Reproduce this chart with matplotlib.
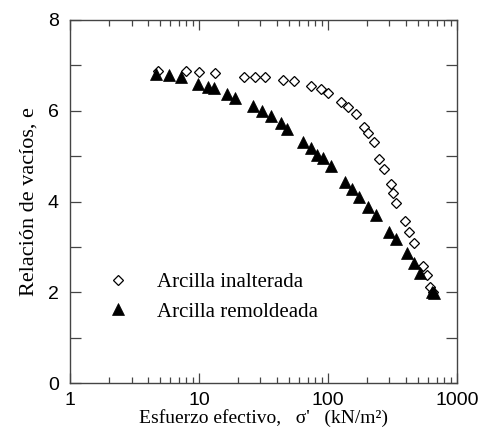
import matplotlib
matplotlib.use("Agg")
import matplotlib.pyplot as plt
from matplotlib.ticker import LogLocator, NullFormatter, FixedLocator

# Arcilla inalterada (undisturbed clay)
inal_sigma = [4.8, 8.0, 10.0, 13.3, 22.2, 27.1, 32.7, 45.1, 54.2, 73.4, 87.8, 100,
              127, 144, 164, 190, 205, 226, 251, 272, 307, 322, 338, 394, 426, 461,
              550, 591, 624, 650]
inal_e = [6.88, 6.88, 6.86, 6.84, 6.75, 6.75, 6.74, 6.67, 6.65, 6.54, 6.47, 6.39,
          6.19, 6.08, 5.93, 5.65, 5.52, 5.31, 4.93, 4.72, 4.38, 4.18, 3.96, 3.57, 3.34, 3.08,
          2.58, 2.39, 2.11, 2.02]

# Arcilla remoldeada (remoulded clay)
rem_sigma = [4.63, 5.84, 7.23, 9.8, 11.8, 13.1, 16.6, 19.1, 26.3, 30.8, 36.4, 43.0,
             48.2, 63.7, 73.4, 82.6, 92, 105, 134.6, 153.4, 174, 205, 237, 297, 340,
             409, 463, 519, 638, 660]
rem_e = [6.81, 6.79, 6.74, 6.59, 6.53, 6.50, 6.37, 6.28, 6.11, 6.00, 5.89, 5.74,
         5.61, 5.32, 5.17, 5.03, 4.95, 4.79, 4.44, 4.28, 4.10, 3.88, 3.71, 3.33, 3.17,
         2.86, 2.64, 2.42, 2.01, 1.98]

y_ticks = [0, 1, 2, 3, 4, 5, 6, 7, 8]
y_labels = ["0", "", "2", "", "4", "", "6", "", "8"]
x_ticks = [1, 10, 100, 1000]
x_labels = ["1", "10", "100", "1000"]

serif = "Liberation Serif"
sans = "Liberation Sans"

fig = plt.figure(figsize=(4.84, 4.34), dpi=100)
ax = fig.add_axes([0.1446, 0.1168, 0.7994, 0.8372])

ax.plot(inal_sigma, inal_e, linestyle="none", marker="D", markersize=5.2,
        markerfacecolor="white", markeredgecolor="black", markeredgewidth=0.9,
        label="Arcilla inalterada")
ax.plot(rem_sigma, rem_e, linestyle="none", marker="^", markersize=8,
        markerfacecolor="black", markeredgecolor="black", markeredgewidth=0.5,
        label="Arcilla remoldeada")

ax.set_xscale("log")
ax.set_xlim(1, 1000)
ax.set_ylim(0, 8)

ax.xaxis.set_major_locator(FixedLocator(x_ticks))
ax.set_xticklabels(x_labels)
ax.xaxis.set_minor_locator(LogLocator(base=10, subs=range(2, 10)))
ax.xaxis.set_minor_formatter(NullFormatter())
ax.set_yticks(y_ticks)
ax.set_yticklabels(y_labels)

ax.tick_params(which="both", direction="in", top=True, right=True, width=0.9,
               color="#444444")
ax.tick_params(axis="y", which="major", length=8, pad=8)
ax.tick_params(axis="x", which="major", length=7, pad=6)
ax.tick_params(axis="x", which="minor", length=4)
for lab in ax.get_xticklabels() + ax.get_yticklabels():
    lab.set_fontfamily(sans)
    lab.set_fontsize(14)
for s in ax.spines.values():
    s.set_linewidth(1.0)
    s.set_color("#444444")

ax.set_xlabel("Esfuerzo efectivo,   σ'   (kN/m²)", family=serif, fontsize=14,
              labelpad=0)
ax.set_ylabel("Relación de vacíos, e", family=serif, fontsize=16, labelpad=7)

ax.legend(loc="upper left", bbox_to_anchor=(0.0486, 0.327), frameon=False,
          prop={"family": serif, "size": 15}, handlelength=2.0,
          handletextpad=0.87, labelspacing=0.47, borderaxespad=0)

fig.savefig("out.png", dpi=100)
